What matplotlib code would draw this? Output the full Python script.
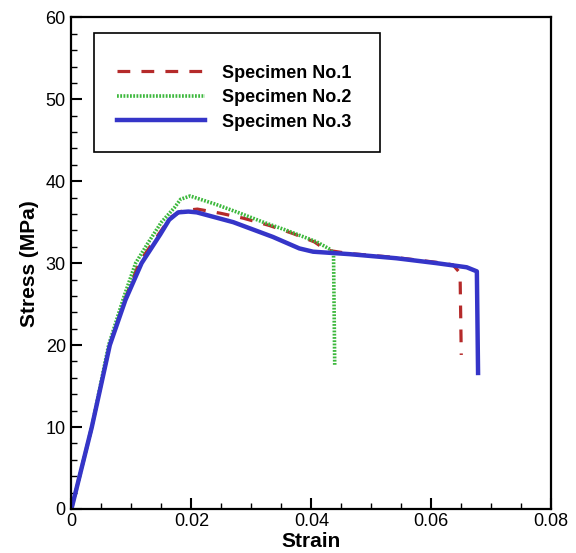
import numpy as np
import matplotlib
matplotlib.use("Agg")
import matplotlib.pyplot as plt
from matplotlib.patches import Rectangle
from matplotlib.ticker import MultipleLocator, FuncFormatter

plt.rcParams['font.family'] = ['Liberation Sans', 'DejaVu Sans']

# Specimen No.1 (red dashed)
strain_1 = [0, 0.0034, 0.0064, 0.0090, 0.0114, 0.0148, 0.0165, 0.0185, 0.0210, 0.0248,
            0.0286, 0.0330, 0.0370, 0.0405, 0.0425, 0.0460, 0.0540, 0.0609, 0.0636, 0.0648, 0.0650]
stress_1 = [0, 10, 20, 25.8, 30.2, 33.8, 35.6, 36.4, 36.6, 36.1,
            35.5, 34.6, 33.6, 32.6, 31.6, 31.2, 30.7, 30.1, 29.8, 28.8, 18.8]

# Specimen No.2 (green dotted)
strain_2 = [0, 0.0034, 0.0062, 0.0088, 0.0107, 0.0128, 0.0150, 0.0172, 0.0182, 0.0198,
            0.0240, 0.0281, 0.0320, 0.0359, 0.0409, 0.0431, 0.0437, 0.0439]
stress_2 = [0, 10, 20, 26, 30, 32.5, 35.0, 36.8, 37.8, 38.2,
            37.2, 36.1, 35.0, 34.0, 32.6, 31.7, 31.2, 17.6]

# Specimen No.3 (blue solid)
strain_3 = [0, 0.0034, 0.0064, 0.0090, 0.0117, 0.0148, 0.0163, 0.0178, 0.0195, 0.0209,
            0.0270, 0.0336, 0.0380, 0.0403, 0.0464, 0.0542, 0.0609, 0.0659, 0.0676, 0.0678]
stress_3 = [0, 10, 20, 25.5, 30, 33.5, 35.3, 36.2, 36.3, 36.2,
            35.0, 33.2, 31.8, 31.4, 31.1, 30.6, 30.0, 29.5, 29.0, 16.6]

labels = ['Specimen No.1', 'Specimen No.2', 'Specimen No.3']

fig = plt.figure(figsize=(5.76, 5.53), dpi=100)
ax = fig.add_axes([0.124, 0.0796, 0.833, 0.889])

ax.plot(strain_1, stress_1, color='#b52a2a', lw=2.3, linestyle=(0, (4, 3.5)), label=labels[0])
ax.plot(strain_2, stress_2, color='#3cb83c', lw=2.6, linestyle=(0, (0.5, 0.4)), label=labels[1])
ax.plot(strain_3, stress_3, color='#3535c8', lw=3.2, label=labels[2])

ax.set_xlim(0, 0.08)
ax.set_ylim(0, 60)
ax.xaxis.set_major_locator(MultipleLocator(0.02))
ax.xaxis.set_minor_locator(MultipleLocator(0.005))
ax.yaxis.set_major_locator(MultipleLocator(10))
ax.yaxis.set_minor_locator(MultipleLocator(2))
ax.xaxis.set_major_formatter(FuncFormatter(lambda v, p: '0' if v == 0 else f'{v:g}'))
ax.tick_params(which='both', direction='in', top=False, right=False, labelsize=13, color='black')
ax.tick_params(which='major', length=8, width=1.5)
ax.tick_params(which='minor', length=4.5, width=1.0)
ax.tick_params(axis='x', pad=3)
ax.tick_params(axis='y', pad=4)
for s in ax.spines.values():
    s.set_linewidth(1.6)

ax.set_xlabel('Strain', fontsize=15, fontweight='bold', labelpad=1)
ax.set_ylabel('Stress (MPa)', fontsize=15, fontweight='bold', labelpad=5)

ax.add_patch(Rectangle((0.047, 0.7256), 0.596, 0.242, transform=ax.transAxes,
                       fill=False, edgecolor='black', lw=1.2, zorder=5))
leg = ax.legend(loc='upper left', bbox_to_anchor=(0.095, 0.904), frameon=False,
                prop={'weight': 'bold', 'size': 13}, handlelength=4.9,
                handletextpad=0.94, borderpad=0, borderaxespad=0, labelspacing=0.42)

fig.savefig('out.png', dpi=100)
